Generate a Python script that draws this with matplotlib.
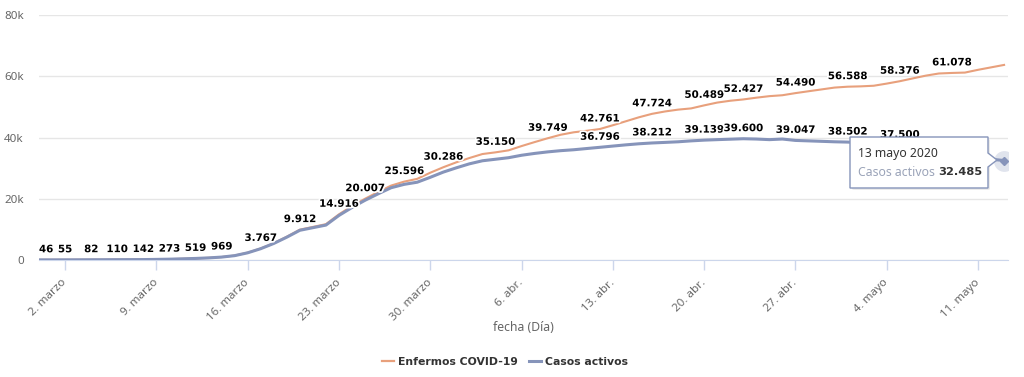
import matplotlib
matplotlib.use("Agg")
import matplotlib.pyplot as plt
import matplotlib.patheffects as pe
from matplotlib.patches import FancyBboxPatch, Polygon
from matplotlib.lines import Line2D
import numpy as np
import pandas as pd

plt.rcParams['font.family'] = ['Noto Sans', 'DejaVu Sans']
BOLD = ['DejaVu Sans']

# daily values, 29 Feb 2020 .. 13 May 2020
dates = pd.date_range('2020-02-29', '2020-05-13', freq='D')

enfermos = [46, 50, 55, 68, 82, 95, 110, 125, 142, 200,
            273, 390, 519, 700, 969, 1450, 2400, 3767, 5500, 7600,
            9912, 10800, 11700, 14916, 17600, 20007, 22200, 24300, 25596, 26500,
            28500, 30286, 31900, 33300, 34600, 35150, 35800, 37200, 38500, 39749,
            40900, 41700, 42200, 42761, 44000, 45300, 46600, 47724, 48500, 49100,
            49500, 50489, 51400, 52000, 52427, 53000, 53500, 53800, 54490, 55100,
            55700, 56300, 56588, 56700, 56900, 57600, 58376, 59300, 60200, 60900,
            61078, 61200, 62100, 62900, 63700]

activos = [46, 50, 55, 68, 82, 95, 110, 124, 140, 197,
           268, 384, 510, 688, 950, 1420, 2350, 3690, 5400, 7450,
           9700, 10550, 11400, 14550, 17150, 19500, 21600, 23600, 24700, 25400,
           27000, 28700, 30100, 31400, 32400, 32900, 33400, 34200, 34800, 35300,
           35700, 36000, 36400, 36796, 37200, 37600, 37950, 38212, 38400, 38600,
           38900, 39139, 39300, 39450, 39600, 39500, 39300, 39500, 39047, 38900,
           38750, 38600, 38502, 38300, 38150, 37900, 37500, 36700, 35900, 35100,
           34500, 33900, 33300, 32900, 32485]

# points that carry a visible data label
enf_labels = [0, 2, 4, 6, 8, 10, 12, 14, 17, 20, 23, 25, 28, 31, 35, 39,
              43, 47, 51, 54, 58, 62, 66, 70]
act_labels = [43, 47, 51, 54, 58, 62, 66]

tick_dates = pd.date_range('2020-03-02', '2020-05-11', freq='7D')
tick_text = ['2. marzo', '9. marzo', '16. marzo', '23. marzo', '30. marzo',
             '6. abr.', '13. abr.', '20. abr.', '27. abr.', '4. mayo', '11. mayo']
y_ticks = [0, 20000, 40000, 60000, 80000]
y_text = ['0', '20k', '40k', '60k', '80k']

c_enf = '#e8a07c'
c_act = '#8694ba'

W, H = 1024, 377
fig = plt.figure(figsize=(W / 100, H / 100), dpi=100)
ax = fig.add_axes([39 / W, 1 - 260 / H, 969 / W, 245 / H])


def fmt(v):
    return '{:,}'.format(v).replace(',', '.')


ax.plot(dates, enfermos, color=c_enf, lw=1.5, zorder=3)
ax.plot(dates, activos, color=c_act, lw=2.2, zorder=4)

outline = [pe.withStroke(linewidth=2.5, foreground='white')]
for i in enf_labels:
    ha = 'left' if i == 0 else 'center'
    ax.annotate(fmt(enfermos[i]), (dates[i], enfermos[i]), xytext=(0, 4),
                textcoords='offset points', ha=ha, va='bottom', fontsize=7.4,
                family=BOLD, fontweight='bold', color='black',
                path_effects=outline, zorder=6)
for i in act_labels:
    ax.annotate(fmt(activos[i]), (dates[i], activos[i]), xytext=(0, 4),
                textcoords='offset points', ha='center', va='bottom', fontsize=7.4,
                family=BOLD, fontweight='bold', color='black',
                path_effects=outline, zorder=6)

ax.set_xlim(dates[0], dates[0] + pd.Timedelta(days=74.3))
ax.set_ylim(0, 80000)
ax.set_yticks(y_ticks)
ax.set_yticklabels(y_text)
ax.set_xticks(tick_dates)
ax.set_xticklabels(tick_text)
ax.grid(axis='y', color='#e6e6e6', lw=1)
ax.set_axisbelow(True)
for s in ['top', 'right', 'left']:
    ax.spines[s].set_visible(False)
ax.spines['bottom'].set_color('#ccd6eb')
ax.tick_params(axis='y', length=0, pad=11, labelsize=8.3, labelcolor='#666666')
ax.tick_params(axis='x', length=7, width=1, color='#ccd6eb', pad=8,
               labelsize=8.3, labelcolor='#666666')
for lab in ax.get_xticklabels():
    lab.set_rotation(45)
    lab.set_ha('right')
    lab.set_va('center')
    lab.set_rotation_mode('anchor')

ax.set_xlabel('fecha (Día)', fontsize=8.8, color='#666666')
ax.xaxis.set_label_coords(0.5, -0.25)

# hovered last point
ax.plot(dates[-1], activos[-1], 'o', ms=15, color=c_act, alpha=0.25, mec='none', zorder=7)
ax.plot(dates[-1], activos[-1], 'D', ms=4.5, color=c_act, zorder=8, clip_on=False)


def fx(px):
    return px / W


def fy(py):
    return 1 - py / H


# tooltip
shadow = FancyBboxPatch((fx(852), fy(190)), fx(138), 51 / H,
                        boxstyle='round,pad=0,rounding_size=0.003',
                        transform=fig.transFigure, fc='#000000', alpha=0.08,
                        ec='none', zorder=9)
fig.patches.append(shadow)
box = Polygon([(fx(850), fy(137)), (fx(988), fy(137)), (fx(988), fy(153)),
               (fx(997), fy(160)), (fx(988), fy(167)), (fx(988), fy(188)),
               (fx(850), fy(188))], closed=True, transform=fig.transFigure,
              fc='white', ec=c_act, lw=1, zorder=10)
fig.patches.append(box)
fig.text(fx(858), fy(153), '13 mayo 2020', fontsize=8.8, color='#333333',
         va='center', ha='left', zorder=11)
fig.text(fx(858), fy(172), 'Casos activos', fontsize=8.8, color='#9aa3b8',
         va='center', ha='left', zorder=11)
fig.text(fx(938), fy(172), '32.485', fontsize=8.2, color='#333333',
         family=BOLD, fontweight='bold', va='center', ha='left', zorder=11)

handles = [Line2D([], [], color=c_enf, lw=1.6), Line2D([], [], color=c_act, lw=2.2)]
fig.legend(handles, ['Enfermos COVID-19', 'Casos activos'], loc='center',
           bbox_to_anchor=(fx(505), fy(362)), ncol=2, frameon=False,
           handlelength=1.1, handletextpad=0.4, columnspacing=1.0,
           prop={'size': 7.8, 'weight': 'bold', 'family': BOLD},
           labelcolor='#333333')

fig.savefig('out.png', dpi=100)
